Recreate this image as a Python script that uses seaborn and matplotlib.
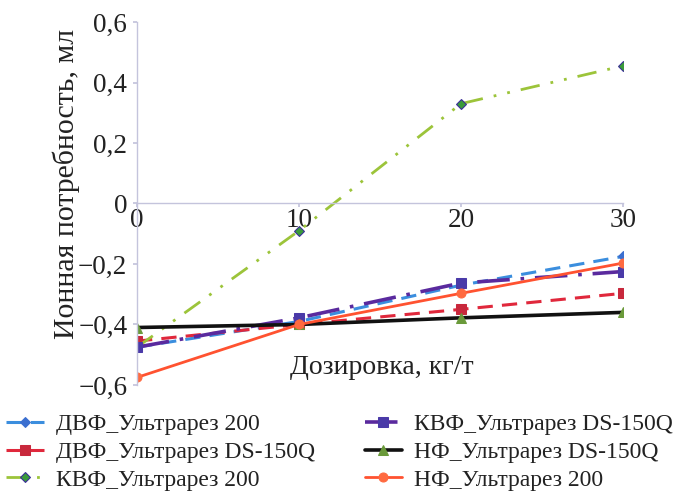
import matplotlib
matplotlib.use("Agg")
import matplotlib.pyplot as plt
import matplotlib.ticker as mticker
import seaborn as sns
import pandas as pd

dose = [0, 10, 20, 30]
series_names = [
    "ДВФ_Ультрарез 200",
    "ДВФ_Ультрарез DS-150Q",
    "КВФ_Ультрарез 200",
    "КВФ_Ультрарез DS-150Q",
    "НФ_Ультрарез DS-150Q",
    "НФ_Ультрарез 200",
]
dvf_200 = [-0.475, -0.39, -0.27, -0.175]
dvf_ds = [-0.455, -0.40, -0.35, -0.297]
kvf_200 = [-0.475, -0.09, 0.33, 0.455]
kvf_ds = [-0.475, -0.378, -0.263, -0.225]
nf_ds = [-0.41, -0.40, -0.378, -0.36]
nf_200 = [-0.575, -0.40, -0.297, -0.197]
values = [dvf_200, dvf_ds, kvf_200, kvf_ds, nf_ds, nf_200]

x_label = "Дозировка, кг/т"
y_label = "Ионная потребность, мл"

rows = []
for name, vals in zip(series_names, values):
    for d, v in zip(dose, vals):
        rows.append({"Дозировка": d, "Значение": v, "Серия": name})
df = pd.DataFrame(rows)

styles = {
    "ДВФ_Ультрарез 200": dict(color="#3b8ede", ls=(0, (5, 3)), marker="D", mfc="#3b6fd0", mec="#3b6fd0", ms=5.5, lw=2.2),
    "ДВФ_Ультрарез DS-150Q": dict(color="#e0283c", ls=(0, (5, 3)), marker="s", mfc="#c8283c", mec="#c8283c", ms=6.5, lw=2.2),
    "КВФ_Ультрарез 200": dict(color="#9cc43a", ls=(0, (7, 4, 1, 4, 1, 4)), marker="D", mfc="#3a9a3a", mec="#3a2a9a", ms=5.5, lw=2.0),
    "КВФ_Ультрарез DS-150Q": dict(color="#5a2a9e", ls=(0, (9, 3, 1, 3)), marker="s", mfc="#4a3aa8", mec="#4a3aa8", ms=6.5, lw=2.6),
    "НФ_Ультрарез DS-150Q": dict(color="#111111", ls="-", marker="^", mfc="#6a9a3a", mec="#6a9a3a", ms=6.5, lw=2.6),
    "НФ_Ультрарез 200": dict(color="#ff5230", ls="-", marker="o", mfc="#ff6a40", mec="#ff6a40", ms=6.5, lw=2.0),
}

sns.set_theme(style="white")
plt.rcParams["font.family"] = ["Liberation Serif", "DejaVu Serif"]
plt.rcParams["axes.unicode_minus"] = True

fig = plt.figure(figsize=(6.8, 4.97), dpi=100)
ax = fig.add_axes([0.2015, 0.2254, 0.7147, 0.7303])

for name in series_names:
    st = styles[name]
    sub = df[df["Серия"] == name]
    sns.lineplot(data=sub, x="Дозировка", y="Значение", ax=ax, color=st["color"],
                 linestyle=st["ls"], linewidth=st["lw"], marker=st["marker"],
                 markerfacecolor=st["mfc"], markeredgecolor=st["mec"], markersize=st["ms"],
                 label=name, legend=False)

ax.set_xlim(0, 30)
ax.set_ylim(-0.6, 0.6)
ax.set_xticks([0, 10, 20, 30])
ax.set_yticks([-0.6, -0.4, -0.2, 0, 0.2, 0.4, 0.6])

def yfmt(v, pos):
    if abs(v) < 1e-9:
        return "0"
    return f"{v:.1f}".replace(".", ",").replace("-", "\u2212")

ax.yaxis.set_major_formatter(mticker.FuncFormatter(yfmt))
ax.xaxis.set_major_formatter(mticker.FuncFormatter(lambda v, p: f"{int(v)}"))

spine_c = "#c4c4dc"
ax.spines["bottom"].set_position(("data", 0))
ax.spines["top"].set_visible(False)
ax.spines["right"].set_visible(False)
for s in ("left", "bottom"):
    ax.spines[s].set_color(spine_c)
    ax.spines[s].set_linewidth(1.0)
ax.tick_params(axis="y", which="both", left=True, length=3, color=spine_c, labelsize=19.5, pad=4,
               labelcolor="#222222")
ax.tick_params(axis="x", which="both", bottom=True, length=3, color=spine_c, labelsize=19.5, pad=0,
               labelcolor="#222222")

ax.set_xlabel(x_label, fontsize=20, color="#222222")
ax.xaxis.set_label_coords(245 / 486, (385 - 355) / 363, transform=ax.transAxes)
ax.set_ylabel(y_label, fontsize=21.5, color="#222222")
ax.yaxis.set_label_coords(-0.118, 0.555)

handles, labels = ax.get_legend_handles_labels()
fig.legend(handles, labels, ncol=2, loc="lower left", bbox_to_anchor=(-0.022, -0.03),
           frameon=False, fontsize=17, handlelength=1.6, handletextpad=0.5,
           columnspacing=2.1, labelspacing=0.26, labelcolor="#222222")

fig.savefig("out.png", dpi=100)
